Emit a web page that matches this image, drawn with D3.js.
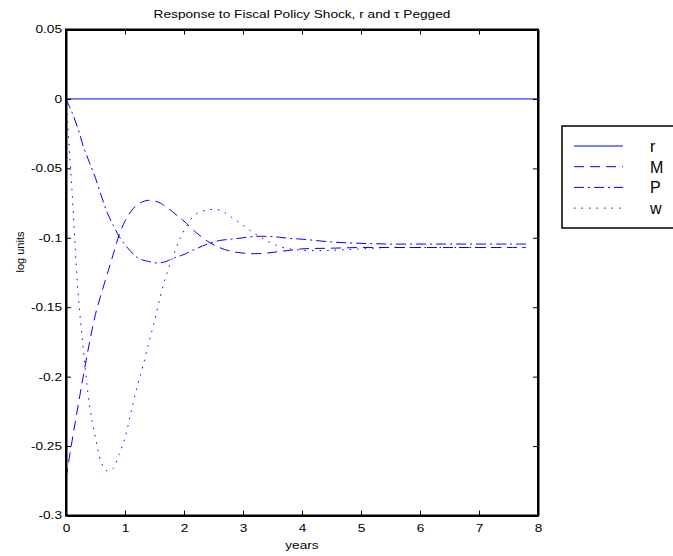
<!DOCTYPE html>
<html lang="en">
<head>
<meta charset="utf-8">
<title>Response to Fiscal Policy Shock</title>
<script src="https://cdn.jsdelivr.net/npm/d3@7"></script>
<style>
	body { margin: 0; background: #fff; }
	svg text { font-family: "Liberation Sans", Arial, sans-serif; fill: #000; }
	.tick text { font-size: 10.5px; }
	.legtext { font-size: 16px; }
</style>
</head>
<body>
<script>
// time grid (years) and responses
var years = [0, 0.1, 0.2, 0.3, 0.4, 0.5, 0.6, 0.7, 0.8, 0.9, 1.0, 1.1, 1.2, 1.3, 1.4, 1.5, 1.6, 1.7, 1.8, 1.9,
	2.0, 2.2, 2.4, 2.6, 2.8, 3.0, 3.2, 3.4, 3.6, 3.8, 4.0, 4.5, 5.0, 5.5, 6.0, 6.5, 7.0, 7.5, 7.8];
var rSeries = [0, 0];
var rYears = [0, 8];
var mSeries = [-0.273, -0.247, -0.222, -0.198, -0.175, -0.155, -0.140, -0.126, -0.112, -0.098, -0.088,
	-0.081, -0.0765, -0.0740, -0.0730, -0.0735, -0.0750, -0.0780, -0.0810, -0.0845,
	-0.088, -0.096, -0.1025, -0.107, -0.1098, -0.111, -0.1115, -0.111, -0.110, -0.109,
	-0.108, -0.1075, -0.107, -0.107, -0.107, -0.107, -0.107, -0.107, -0.107];
var pSeries = [0, -0.0095, -0.021, -0.035, -0.046, -0.057, -0.070, -0.082, -0.091, -0.099, -0.105,
	-0.110, -0.114, -0.116, -0.117, -0.118, -0.118, -0.117, -0.115, -0.1135,
	-0.112, -0.108, -0.1045, -0.102, -0.101, -0.100, -0.099, -0.099, -0.0995, -0.1005,
	-0.101, -0.103, -0.104, -0.1045, -0.1045, -0.1045, -0.1045, -0.1045, -0.1045];
var wSeries = [0, -0.065, -0.137, -0.183, -0.221, -0.244, -0.262, -0.268, -0.266, -0.256, -0.244,
	-0.226, -0.208, -0.193, -0.176, -0.160, -0.142, -0.127, -0.115, -0.104,
	-0.095, -0.083, -0.080, -0.080, -0.085, -0.091, -0.097, -0.102, -0.106, -0.108,
	-0.109, -0.109, -0.108, -0.107, -0.107, -0.107, -0.107, -0.107, -0.107];
var xTicks = [0, 1, 2, 3, 4, 5, 6, 7, 8];
var yTicks = [0.05, 0, -0.05, -0.1, -0.15, -0.2, -0.25, -0.3];
var legendNames = ["r", "M", "P", "w"];
var dashes = [null, "10,6", "10,4,2,4", "1.5,6"];

var W = 673, H = 556;
var margin = {left: 66, right: 135, top: 29.5, bottom: 40.5};
var svg = d3.select("body").append("svg").attr("width", W).attr("height", H);

var x = d3.scaleLinear().domain([0, 8]).range([margin.left, W - margin.right]);
var y = d3.scaleLinear().domain([-0.3, 0.05]).range([H - margin.bottom, margin.top]);

// the original figure's text is drawn a bit wider than normal
function stretch(sel, k) {
	sel.each(function () {
		var len = this.getComputedTextLength();
		if (len > 0) {
			d3.select(this).attr("textLength", len * k).attr("lengthAdjust", "spacingAndGlyphs");
		}
	});
}

// series lines
var line = d3.line()
	.x(function (d) { return x(d[0]); })
	.y(function (d) { return y(d[1]); })
	.curve(d3.curveCatmullRom);

var series = [
	d3.zip(rYears, rSeries),
	d3.zip(years, mSeries),
	d3.zip(years, pSeries),
	d3.zip(years, wSeries)
];

svg.selectAll("path.series")
	.data(series)
	.enter()
	.append("path")
	.attr("class", "series")
	.attr("d", line)
	.attr("fill", "none")
	.attr("stroke", "#0000ff")
	.attr("stroke-width", 1)
	.attr("stroke-dasharray", function (d, i) { return dashes[i]; });

// axes, ticks pointing inward on all four sides
// plain hyphen for negatives, like the original
var fmt = function (d) { return String(+d.toFixed(2)); };
svg.append("g")
	.attr("transform", "translate(0," + y(-0.3) + ")")
	.call(d3.axisBottom(x).tickValues(xTicks).tickFormat(fmt).tickSizeInner(-5).tickSizeOuter(0).tickPadding(9));
svg.append("g")
	.attr("transform", "translate(0," + y(0.05) + ")")
	.call(d3.axisTop(x).tickValues(xTicks).tickSizeInner(-5).tickSizeOuter(0).tickFormat(""));
svg.append("g")
	.attr("transform", "translate(" + x(0) + ",0)")
	.call(d3.axisLeft(y).tickValues(yTicks).tickFormat(fmt).tickSizeInner(-5).tickSizeOuter(0).tickPadding(4));
svg.append("g")
	.attr("transform", "translate(" + x(8) + ",0)")
	.call(d3.axisRight(y).tickValues(yTicks).tickSizeInner(-5).tickSizeOuter(0).tickFormat(""));

svg.selectAll(".domain").attr("stroke", "#000").attr("stroke-width", 2);
svg.selectAll(".tick line").attr("stroke", "#000");
svg.selectAll(".tick text").call(stretch, 1.3);

// frame
svg.append("rect")
	.attr("x", x(0)).attr("y", y(0.05))
	.attr("width", x(8) - x(0)).attr("height", y(-0.3) - y(0.05))
	.attr("fill", "none").attr("stroke", "#000").attr("stroke-width", 2);

// labels
svg.append("text")
	.attr("x", (x(0) + x(8)) / 2).attr("y", 18)
	.attr("text-anchor", "middle").style("font-size", "10.5px")
	.text("Response to Fiscal Policy Shock, r and \u03c4 Pegged")
	.call(stretch, 1.3);
svg.append("text")
	.attr("x", (x(0) + x(8)) / 2).attr("y", 549)
	.attr("text-anchor", "middle").style("font-size", "10.5px")
	.text("years")
	.call(stretch, 1.3);
svg.append("text")
	.attr("transform", "translate(24,252) rotate(-90)")
	.attr("text-anchor", "middle").style("font-size", "11px")
	.text("log units");

// legend
var leg = svg.append("g");
leg.append("rect")
	.attr("x", 562).attr("y", 126)
	.attr("width", 120).attr("height", 102)
	.attr("fill", "#fff").attr("stroke", "#000").attr("stroke-width", 1.5);
var rows = leg.selectAll("g.row")
	.data(legendNames)
	.enter()
	.append("g")
	.attr("class", "row")
	.attr("transform", function (d, i) { return "translate(0," + (146 + i * 20.7) + ")"; });
rows.append("line")
	.attr("x1", 574).attr("x2", 623)
	.attr("stroke", "#0000ff").attr("stroke-width", 1)
	.attr("stroke-dasharray", function (d, i) { return dashes[i]; });
rows.append("text")
	.attr("class", "legtext")
	.attr("x", 650).attr("y", 6)
	.text(function (d) { return d; });
</script>
</body>
</html>
